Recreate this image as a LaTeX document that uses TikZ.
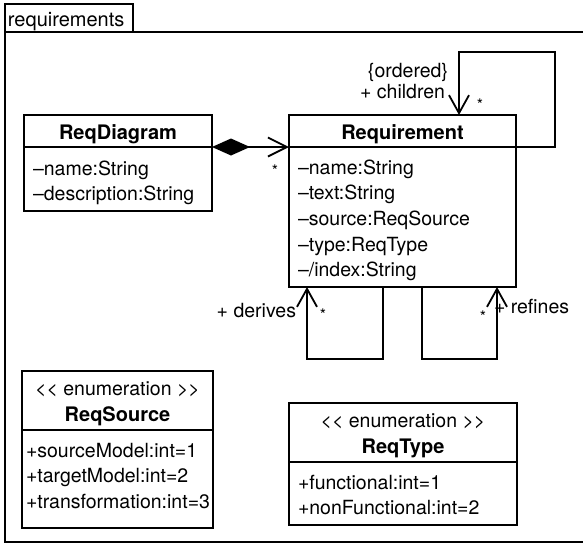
\documentclass[tikz,border=0pt]{standalone}
\usepackage{fontspec}
\setmainfont{TeX Gyre Heros}
\usetikzlibrary{arrows.meta,calc}

\tikzset{
  umlline/.style={line width=1.8pt, line join=miter},
  classbox/.style={draw, umlline, inner sep=0pt, outer sep=0pt, anchor=north west},
  txt/.style={inner sep=0pt, outer sep=0pt, font=\fontsize{19.5}{24}\selectfont, anchor=base west},
  title/.style={txt, font=\fontsize{20}{24}\selectfont\bfseries, anchor=base},
  stereo/.style={txt, anchor=base},
  mult/.style={inner sep=0pt, font=\fontsize{16}{18}\selectfont, anchor=base},
  assoc/.style={umlline, -{Straight Barb[length=18pt,width=20pt,line join=miter]}},
  compos/.style={umlline, {Diamond[length=38pt,width=17pt]}-{Straight Barb[length=19pt,width=19pt,line join=miter]}},
}

\begin{document}
\begin{tikzpicture}[x=1pt,y=-1pt]
\useasboundingbox (0,0) rectangle (583,546);

% package frame with its name tab
\node[classbox, minimum width=128pt, minimum height=28pt] (tab) at (5,4) {};
\node[txt, font=\fontsize{20}{24}\selectfont] (pkgname) at (8,26) {requirements};
\draw[umlline] (tab.south west) -- (5,542) -- (600,542);
\draw[umlline] (tab.south west) -- (600,32);

% ReqDiagram
\node[classbox, minimum width=188pt, minimum height=32pt] (rdhead) at (24,115) {};
\node[classbox, minimum width=188pt, minimum height=64pt] (rdbody) at (24,147) {};
\node[title] (rdname) at (118,139) {ReqDiagram};
\node[txt] (rda1) at (33,175) {–name:String};
\node[txt] (rda2) at (33,200) {–description:String};

% Requirement
\node[classbox, minimum width=227pt, minimum height=32pt] (rqhead) at (289,115) {};
\node[classbox, minimum width=227pt, minimum height=140pt] (rqbody) at (289,147) {};
\node[title] (rqname) at (402.5,139) {Requirement};
\node[txt] (rqa1) at (298,174) {–name:String};
\node[txt] (rqa2) at (298,199) {–text:String};
\node[txt] (rqa3) at (298,225) {–source:ReqSource};
\node[txt] (rqa4) at (298,251) {–type:ReqType};
\node[txt] (rqa5) at (298,276) {–/index:String};

% ReqSource enumeration
\node[classbox, minimum width=191pt, minimum height=59pt] (rshead) at (22,371) {};
\node[classbox, minimum width=191pt, minimum height=98pt] (rsbody) at (22,430) {};
\node[stereo] (rsst) at (117.5,395) {<{}< enumeration >{}>};
\node[title] (rsname) at (117.5,421) {ReqSource};
\node[txt] (rsa1) at (26,457) {+sourceModel:int=1};
\node[txt] (rsa2) at (26,482) {+targetModel:int=2};
\node[txt] (rsa3) at (26,508) {+transformation:int=3};

% ReqType enumeration
\node[classbox, minimum width=228pt, minimum height=59pt] (rthead) at (289,403) {};
\node[classbox, minimum width=228pt, minimum height=63pt] (rtbody) at (289,462) {};
\node[stereo] (rtst) at (403,427) {<{}< enumeration >{}>};
\node[title] (rtname) at (403,453) {ReqType};
\node[txt] (rta1) at (298,489) {+functional:int=1};
\node[txt] (rta2) at (298,514) {+nonFunctional:int=2};

% composition ReqDiagram -> Requirement
\draw[compos] (rdhead.south east) -- (rqhead.south west);
\node[mult] (m1) at (275,176) {*};

% children: self association on Requirement
\draw[assoc] (rqhead.south east) -- ++(39,0) |- ($(rqhead.north west)+(170,-63)$) -- ($(rqhead.north west)+(170,0)$);
\node[stereo] (ord) at (408,77) {\{ordered\}};
\node[txt, anchor=base east] (chl) at (445,98) {+ children};
\node[mult] (m2) at (480,110) {*};

% derives: self association under Requirement
\draw[assoc] ($(rqbody.south west)+(94,0)$) -- ++(0,72) -| ($(rqbody.south west)+(18,0)$);
\node[txt, anchor=base east] (der) at (296,317) {+ derives};
\node[mult] (m3) at (323,320) {*};

% refines: self association under Requirement
\draw[assoc] ($(rqbody.south west)+(133,0)$) -- ++(0,72) -| ($(rqbody.south west)+(208,0)$);
\node[mult] (m4) at (483,322) {*};
\node[txt] (ref) at (494,313) {+ refines};
\end{tikzpicture}
\end{document}
